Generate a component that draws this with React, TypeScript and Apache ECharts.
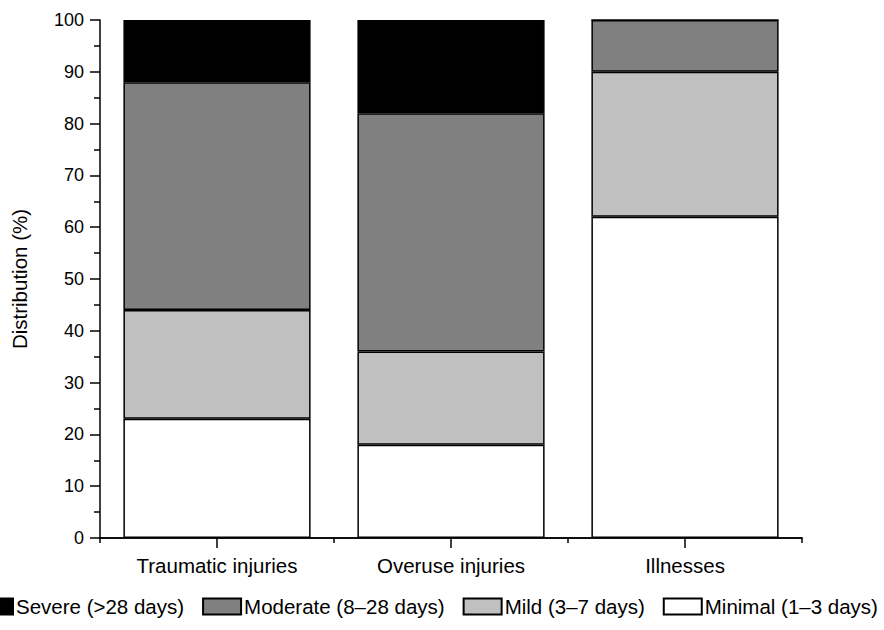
import React, { useEffect, useRef } from "react";
import * as echarts from "echarts";

const categories = ["Traumatic injuries", "Overuse injuries", "Illnesses"];
const minimal = [23, 18, 62];
const mild = [21, 18, 28];
const moderate = [44, 46, 10];
const severe = [12, 18, 0];
const seriesNames = ["Severe (>28 days)", "Moderate (8\u201328 days)", "Mild (3\u20137 days)", "Minimal (1\u20133 days)"];

const FONT = "Liberation Sans, Arial, sans-serif";
const TEXT_SIZE = 20.5;

export default function App() {
  const ref = useRef<HTMLDivElement>(null);
  useEffect(() => {
    const chart = echarts.init(ref.current!, null, { renderer: "svg" });
    const mk = (name: string, data: number[], color: string) => ({
      name,
      type: "bar",
      stack: "total",
      xAxisIndex: 0,
      data,
      barCategoryGap: "20%",
      itemStyle: { color, borderColor: "#000", borderWidth: 1.5 },
    });
    chart.setOption({
      animation: false,
      textStyle: { fontFamily: FONT },
      grid: { left: 100, right: 82, top: 20, bottom: 92 },
      legend: {
        bottom: 8,
        left: -31,
        itemWidth: 38,
        itemHeight: 16,
        itemGap: 18,
        icon: "rect",
        textStyle: { fontSize: TEXT_SIZE, color: "#000", fontFamily: FONT, padding: [0, 0, 0, -2] },
        data: seriesNames,
      },
      xAxis: [
        {
          type: "category",
          position: "bottom",
          data: categories,
          axisLine: { show: true, lineStyle: { color: "#000", width: 1.5 } },
          axisTick: { show: true, interval: 0, length: 5, lineStyle: { color: "#000", width: 1.5 } },
          axisLabel: { fontSize: TEXT_SIZE, color: "#000", margin: 17, fontFamily: FONT },
        },
        {
          type: "category",
          position: "bottom",
          data: categories,
          axisLine: { show: true, lineStyle: { color: "#000", width: 1.5 } },
          axisTick: { show: true, interval: 0, alignWithLabel: true, length: 10, lineStyle: { color: "#000", width: 1.5 } },
          axisLabel: { show: false },
        },
      ],
      yAxis: {
        type: "value",
        min: 0,
        max: 100,
        interval: 10,
        name: "Distribution (%)",
        nameLocation: "middle",
        nameGap: 70,
        nameTextStyle: { fontSize: TEXT_SIZE, color: "#000", fontFamily: FONT },
        axisLine: { show: true, lineStyle: { color: "#000", width: 1.5 } },
        axisTick: { show: true, length: 10, lineStyle: { color: "#000", width: 1.5 } },
        minorTick: { show: true, splitNumber: 2, length: 6, lineStyle: { color: "#000", width: 1.5 } },
        splitLine: { show: false },
        axisLabel: { fontSize: 18, color: "#000", margin: 16, fontFamily: FONT },
      },
      series: [
        mk(seriesNames[3], minimal, "#ffffff"),
        mk(seriesNames[2], mild, "#c0c0c0"),
        mk(seriesNames[1], moderate, "#808080"),
        mk(seriesNames[0], severe, "#000000"),
      ],
    });
    return () => chart.dispose();
  }, []);
  return <div ref={ref} style={{ width: 884, height: 630, position: "absolute", left: 0, top: 0 }} />;
}
